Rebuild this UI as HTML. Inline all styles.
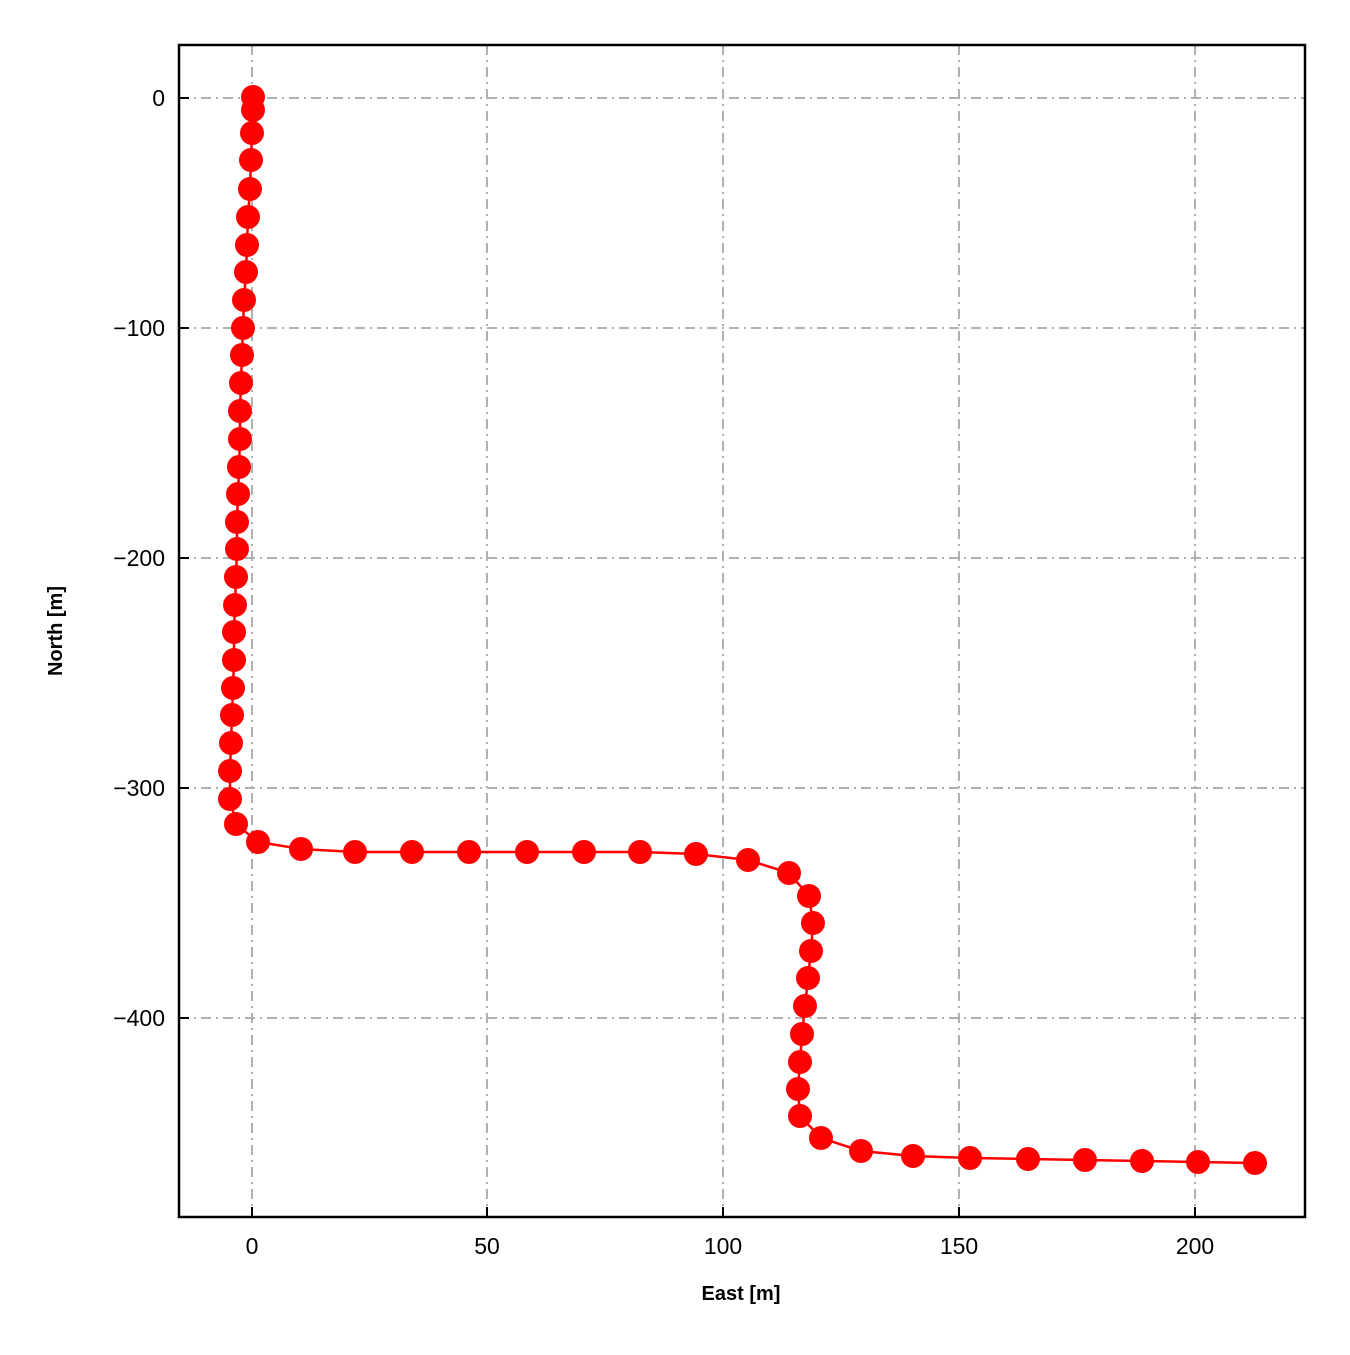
<!DOCTYPE html>
<html><head><meta charset="utf-8"><style>html,body{margin:0;padding:0;background:#fff}</style></head>
<body>
<svg width="1350" height="1350" xmlns="http://www.w3.org/2000/svg" font-family="Liberation Sans, Arial, sans-serif">
<rect width="1350" height="1350" fill="#fff"/>
<g stroke="#b0b0b0" stroke-width="2" stroke-dasharray="10,5,2,5" fill="none">
<line x1="252" y1="45" x2="252" y2="1217"/>
<line x1="487" y1="45" x2="487" y2="1217"/>
<line x1="723" y1="45" x2="723" y2="1217"/>
<line x1="959" y1="45" x2="959" y2="1217"/>
<line x1="1195" y1="45" x2="1195" y2="1217"/>
<line x1="179" y1="98" x2="1305" y2="98"/>
<line x1="179" y1="328" x2="1305" y2="328"/>
<line x1="179" y1="558" x2="1305" y2="558"/>
<line x1="179" y1="788" x2="1305" y2="788"/>
<line x1="179" y1="1018" x2="1305" y2="1018"/>
</g>
<g stroke="#000" stroke-width="2">
<line x1="252" y1="1217" x2="252" y2="1207"/><line x1="487" y1="1217" x2="487" y2="1207"/><line x1="723" y1="1217" x2="723" y2="1207"/><line x1="959" y1="1217" x2="959" y2="1207"/><line x1="1195" y1="1217" x2="1195" y2="1207"/>
<line x1="179" y1="98" x2="189" y2="98"/><line x1="179" y1="328" x2="189" y2="328"/><line x1="179" y1="558" x2="189" y2="558"/><line x1="179" y1="788" x2="189" y2="788"/><line x1="179" y1="1018" x2="189" y2="1018"/>
</g>
<g font-size="23" fill="#000" text-anchor="middle">
<text x="252" y="1254">0</text><text x="487" y="1254">50</text><text x="723" y="1254">100</text><text x="959" y="1254">150</text><text x="1195" y="1254">200</text>
</g>
<g font-size="23" fill="#000" text-anchor="end">
<text x="165" y="106">0</text><text x="165" y="336">−100</text><text x="165" y="566">−200</text><text x="165" y="796">−300</text><text x="165" y="1026">−400</text>
</g>
<text x="741" y="1300" font-size="20" font-weight="bold" text-anchor="middle">East [m]</text>
<text transform="translate(62,631) rotate(-90)" font-size="20" font-weight="bold" text-anchor="middle">North [m]</text>
<g id="d">
<polyline fill="none" stroke="#ff0000" stroke-width="2.5" points="253,97 253,110 252,133 251,160 250,189 248,217 247,245 246,272 244,300 243,328 242,355 241,383 240,411 240,439 239,467 238,494 237,522 237,549 236,577 235,605 234,632 234,660 233,688 232,715 231,743 230,771 230,799 236,824 258,842 301,849 355,852 412,852 469,852 527,852 584,852 640,852 696,854 748,860 789,873 809,896 813,923 811,951 808,978 805,1006 802,1034 800,1062 798,1089 800,1116 821,1138 861,1151 913,1156 970,1158 1028,1159 1085,1160 1142,1161 1198,1162 1255,1163"/>
</g>
<g fill="#ff0000">
<circle cx="253" cy="97" r="12"/><circle cx="253" cy="110" r="12"/><circle cx="252" cy="133" r="12"/><circle cx="251" cy="160" r="12"/><circle cx="250" cy="189" r="12"/><circle cx="248" cy="217" r="12"/><circle cx="247" cy="245" r="12"/><circle cx="246" cy="272" r="12"/><circle cx="244" cy="300" r="12"/><circle cx="243" cy="328" r="12"/><circle cx="242" cy="355" r="12"/><circle cx="241" cy="383" r="12"/><circle cx="240" cy="411" r="12"/><circle cx="240" cy="439" r="12"/><circle cx="239" cy="467" r="12"/><circle cx="238" cy="494" r="12"/><circle cx="237" cy="522" r="12"/><circle cx="237" cy="549" r="12"/><circle cx="236" cy="577" r="12"/><circle cx="235" cy="605" r="12"/><circle cx="234" cy="632" r="12"/><circle cx="234" cy="660" r="12"/><circle cx="233" cy="688" r="12"/><circle cx="232" cy="715" r="12"/><circle cx="231" cy="743" r="12"/><circle cx="230" cy="771" r="12"/><circle cx="230" cy="799" r="12"/><circle cx="236" cy="824" r="12"/><circle cx="258" cy="842" r="12"/><circle cx="301" cy="849" r="12"/><circle cx="355" cy="852" r="12"/><circle cx="412" cy="852" r="12"/><circle cx="469" cy="852" r="12"/><circle cx="527" cy="852" r="12"/><circle cx="584" cy="852" r="12"/><circle cx="640" cy="852" r="12"/><circle cx="696" cy="854" r="12"/><circle cx="748" cy="860" r="12"/><circle cx="789" cy="873" r="12"/><circle cx="809" cy="896" r="12"/><circle cx="813" cy="923" r="12"/><circle cx="811" cy="951" r="12"/><circle cx="808" cy="978" r="12"/><circle cx="805" cy="1006" r="12"/><circle cx="802" cy="1034" r="12"/><circle cx="800" cy="1062" r="12"/><circle cx="798" cy="1089" r="12"/><circle cx="800" cy="1116" r="12"/><circle cx="821" cy="1138" r="12"/><circle cx="861" cy="1151" r="12"/><circle cx="913" cy="1156" r="12"/><circle cx="970" cy="1158" r="12"/><circle cx="1028" cy="1159" r="12"/><circle cx="1085" cy="1160" r="12"/><circle cx="1142" cy="1161" r="12"/><circle cx="1198" cy="1162" r="12"/><circle cx="1255" cy="1163" r="12"/>
</g>
<rect x="179" y="45" width="1126" height="1172" fill="none" stroke="#000" stroke-width="2.5"/>
</svg>
</body></html>
